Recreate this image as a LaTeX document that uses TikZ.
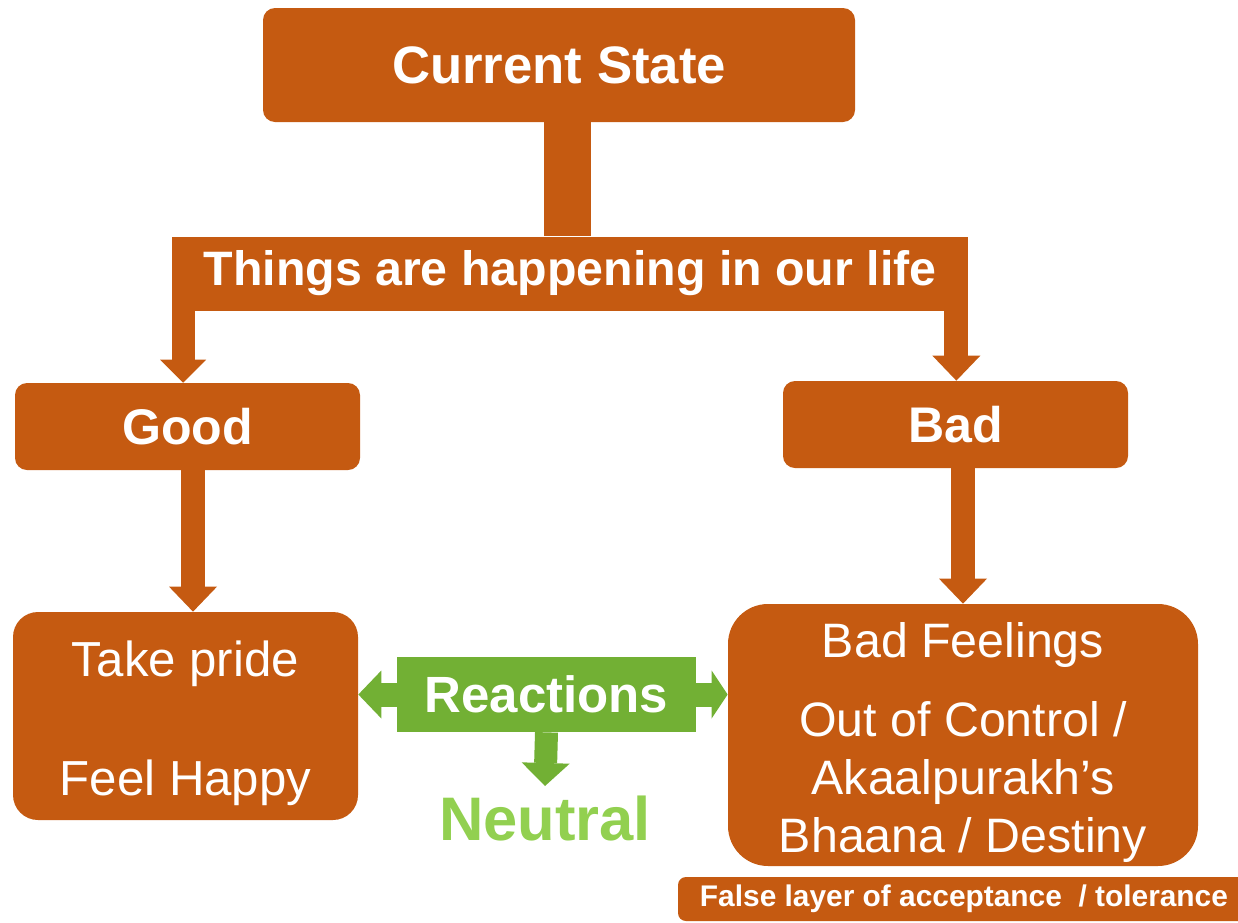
\documentclass[tikz,border=0pt]{standalone}
\usepackage{fontspec}
\setmainfont{Liberation Sans}
\usetikzlibrary{arrows.meta}
\definecolor{burnt}{RGB}{197,90,17}
\definecolor{leaf}{RGB}{114,176,52}
\definecolor{lime}{RGB}{146,208,80}

\begin{document}
\begin{tikzpicture}[
    every node/.style={text=white, inner sep=0pt, align=center},
    block/.style={fill=burnt, rounded corners=0.24cm, minimum width=6.9cm,
                  minimum height=1.74cm, font=\fontsize{28.5}{34}\selectfont\bfseries},
    bigbox/.style={fill=burnt, font=\fontsize{28}{33}\selectfont},
    pipe/.style={draw=burnt, line width=0.48cm,
                 -{Triangle[width=0.96cm, length=0.5cm, line width=0pt]}},
    thinpipe/.style={pipe, line width=0.46cm,
                 -{Triangle[width=0.92cm, length=0.46cm, line width=0pt]}},
    greenpipe/.style={draw=leaf, line width=0.48cm,
                 -{Triangle[width=0.96cm, length=#1, line width=0pt]}},
    greenpipe/.default=0.46cm,
  ]
    \useasboundingbox (0,0) rectangle (24.76,-18.44);
    \clip (0,0) rectangle (24.76,-18.44);

    % boxes
    \node[block, minimum width=11.84cm, minimum height=2.28cm,
          font=\fontsize{30}{36}\selectfont\bfseries] (current) at (11.18,-1.30) {Current State};
    \node[block, rounded corners=0pt, minimum width=15.92cm, minimum height=1.48cm,
          font=\fontsize{27.5}{33}\selectfont\bfseries] (things) at (11.40,-5.47) {Things are happening in our life};
    \node[block] (good) at (3.75,-8.53) {Good};
    \node[block] (bad) at (19.11,-8.49) {Bad};
    \node[bigbox, rounded corners=0.5cm, minimum width=6.9cm, minimum height=4.16cm]
          (pride) at (3.71,-14.32) {\rule{0pt}{28.5pt}Take pride\\[35pt]Feel Happy};
    \node[bigbox, rounded corners=0.8cm, minimum width=9.4cm, minimum height=5.24cm,
          font=\fontsize{27.5}{33}\selectfont]
          (feel) at (19.26,-14.70) {\rule{0pt}{28pt}Bad Feelings\\[12pt]Out of Control /\\Akaalpurakh’s\\Bhaana / Destiny};
    \node[fill=leaf, minimum width=5.98cm, minimum height=1.5cm,
          font=\fontsize{29}{35}\selectfont\bfseries] (reactions) at (10.93,-13.89) {Reactions};
    \node[text=lime, inner sep=0.2cm, anchor=north,
          font=\fontsize{35}{42}\selectfont\bfseries] (neutral) at (10.90,-15.72) {Neutral};
    \node[block, rounded corners=0.16cm, minimum width=11.44cm, minimum height=0.88cm,
          font=\fontsize{17}{20}\selectfont\bfseries] (false) at (19.28,-17.98) {False layer of acceptance\ \ / tolerance};

    % connectors
    \draw[burnt, line width=0.94cm] ([xshift=-0.05cm]things.north |- current.south) -- ([xshift=-0.05cm]things.north);
    \draw[thinpipe] ([xshift=0.23cm]things.south west) -- ([xshift=0.23cm]things.south west |- good.north);
    \draw[pipe] ([xshift=-0.24cm]things.south east) -- ([xshift=-0.24cm]things.south east |- bad.north);
    \draw[pipe] ([xshift=0.11cm]good.south) -- ([xshift=0.11cm]good.south |- pride.north);
    \draw[pipe] (feel.north |- bad.south) -- (feel.north);
    \draw[greenpipe] (reactions.west) -- (reactions.west -| pride.east);
    \draw[greenpipe=0.32cm] (reactions.east) -- (reactions.east -| feel.west);
    \draw[greenpipe, line width=0.46cm] (reactions.south) -- (neutral.north);
\end{tikzpicture}
\end{document}
